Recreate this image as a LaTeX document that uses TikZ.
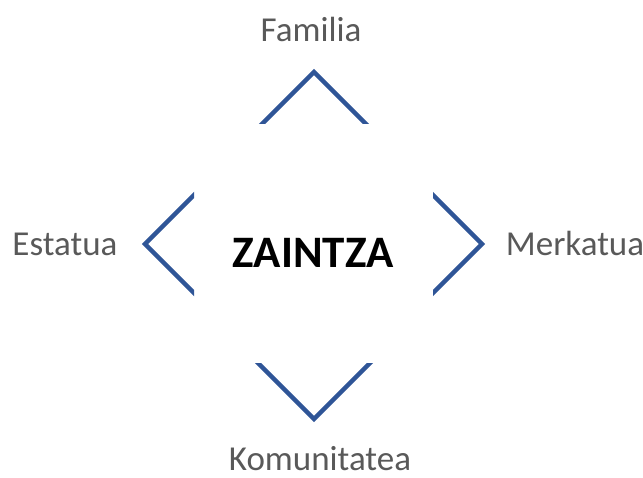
\documentclass[tikz,border=0pt]{standalone}
\usepackage{fontspec}
\setmainfont{Carlito}
\usepackage{tikz}
\usetikzlibrary{positioning}
\definecolor{chevblue}{RGB}{47,85,151}
\definecolor{labelgray}{RGB}{89,89,89}

\begin{document}
\begin{tikzpicture}[x=1pt,y=-1pt,
    chevron/.style={draw=chevblue,line width=4.3pt,line join=miter},
    side/.style={text=labelgray,font=\fontsize{35}{42}\selectfont,anchor=base,inner sep=0pt},
    core/.style={text=black,font=\fontsize{45}{54}\selectfont\bfseries,anchor=base,inner sep=0pt}]
            \useasboundingbox (0,0) rectangle (643,477);

            \node   [core]  (zaintza)   at (313,267)    {ZAINTZA};
            \node   [side]  (familia)   at (311,41)     {Familia};
            \node   [side]  (estatua)   at (65,255)     {Estatua};
            \node   [side]  (merkatua)  at (575,255)    {Merkatua};
            \node   [side]  (komunitatea) at (320,470)  {Komunitatea};

            % top
            \begin{scope}
                \clip (230,50) rectangle (400,123);
                \draw [chevron] (253,133) -- (314,72) -- (375,133);
            \end{scope}
            % left
            \begin{scope}
                \clip (130,180) rectangle (194,310);
                \draw [chevron] (204,185) -- (145,244) -- (204,303);
            \end{scope}
            % right
            \begin{scope}
                \clip (433,180) rectangle (500,310);
                \draw [chevron] (423,185) -- (482,244) -- (423,303);
            \end{scope}
            % bottom
            \begin{scope}
                \clip (240,363) rectangle (390,430);
                \draw [chevron] (248,353) -- (314,419) -- (380,353);
            \end{scope}
        \end{tikzpicture}
\end{document}
